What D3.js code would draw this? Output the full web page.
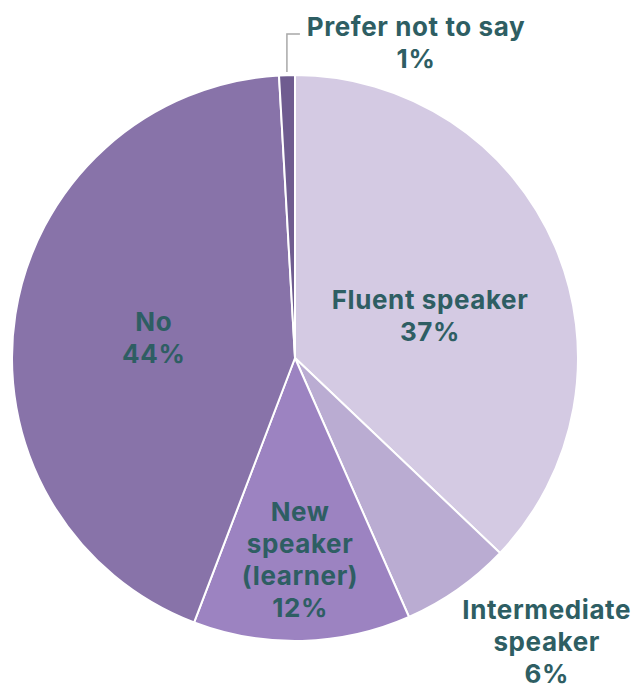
<!DOCTYPE html>
<html>
<head>
<meta charset="utf-8">
<script src="https://cdn.jsdelivr.net/npm/d3@7"></script>
<style>
  html, body { margin: 0; padding: 0; background: #ffffff; }
  svg { display: block; }
  text { font-family: Inter, "Noto Sans", sans-serif; font-weight: 700; letter-spacing: 0.6px; }
</style>
</head>
<body>
<svg id="chart" width="641" height="690"></svg>
<script>
// Data
const categories = ["Fluent speaker", "Intermediate speaker", "New speaker (learner)", "No", "Prefer not to say"];
const values = [37.1, 6.3, 12.4, 43.3, 0.9];
const percentLabels = ["37%", "6%", "12%", "44%", "1%"];
const labelLines = [["Fluent speaker"], ["Intermediate", "speaker"], ["New", "speaker", "(learner)"], ["No"], ["Prefer not to say"]];

// Styling / layout
const colors = ["#d4cae3", "#baacd2", "#9c83c1", "#8873a9", "#6f5c90"];
const textColor = "#2e5e63";
const width = 641, height = 690;
const cx = 295, cy = 358, radius = 283;
const fontSize = 26, lineH = 32;
// [radius factor, dx, dy] for each label block center
const labelLayout = [[0.50, 5, 13], [1.35, 32, -29], [0.71, 0, 1], [0.505, 0, 2], [null, 0, 0]];

const svg = d3.select("#chart");
const g = svg.append("g").attr("transform", `translate(${cx},${cy})`);

const pie = d3.pie().sort(null).value(d => d.value);
const data = categories.map((c, i) => ({ name: c, value: values[i], i }));
const arcs = pie(data);
const arc = d3.arc().innerRadius(0).outerRadius(radius);

g.selectAll("path.slice").data(arcs).join("path")
  .attr("class", "slice")
  .attr("d", arc)
  .attr("fill", d => colors[d.data.i])
  .attr("stroke", "#ffffff")
  .attr("stroke-width", 2)
  .attr("stroke-linejoin", "round");

function midAngle(d) { return (d.startAngle + d.endAngle) / 2; }
function polar(a, r) { return [r * Math.sin(a), -r * Math.cos(a)]; }

arcs.forEach(d => {
  const i = d.data.i;
  const lines = labelLines[i].concat([percentLabels[i]]);
  let x, y;
  if (labelLayout[i][0] === null) {
    // outside label with a leader line
    const a = midAngle(d);
    const [sx, sy] = polar(a, radius + 3);
    const elbowY = 34 - cy;
    g.append("path")
      .attr("d", `M${sx},${sy} L${sx},${elbowY} L${sx + 13},${elbowY}`)
      .attr("fill", "none")
      .attr("stroke", "#a8a8a8")
      .attr("stroke-width", 1.5);
    x = 416 - cx;
    y = 43 - cy;
  } else {
    const a = midAngle(d);
    const p = polar(a, radius * labelLayout[i][0]);
    x = p[0] + labelLayout[i][1];
    y = p[1] + labelLayout[i][2];
  }
  const n = lines.length;
  const t = g.append("text")
    .attr("text-anchor", "middle")
    .attr("fill", textColor)
    .attr("font-size", fontSize);
  lines.forEach((ln, k) => {
    t.append("tspan")
      .attr("x", x)
      .attr("y", y + (k - (n - 1) / 2) * lineH + fontSize * 0.36)
      .text(ln);
  });
});
</script>
</body>
</html>
